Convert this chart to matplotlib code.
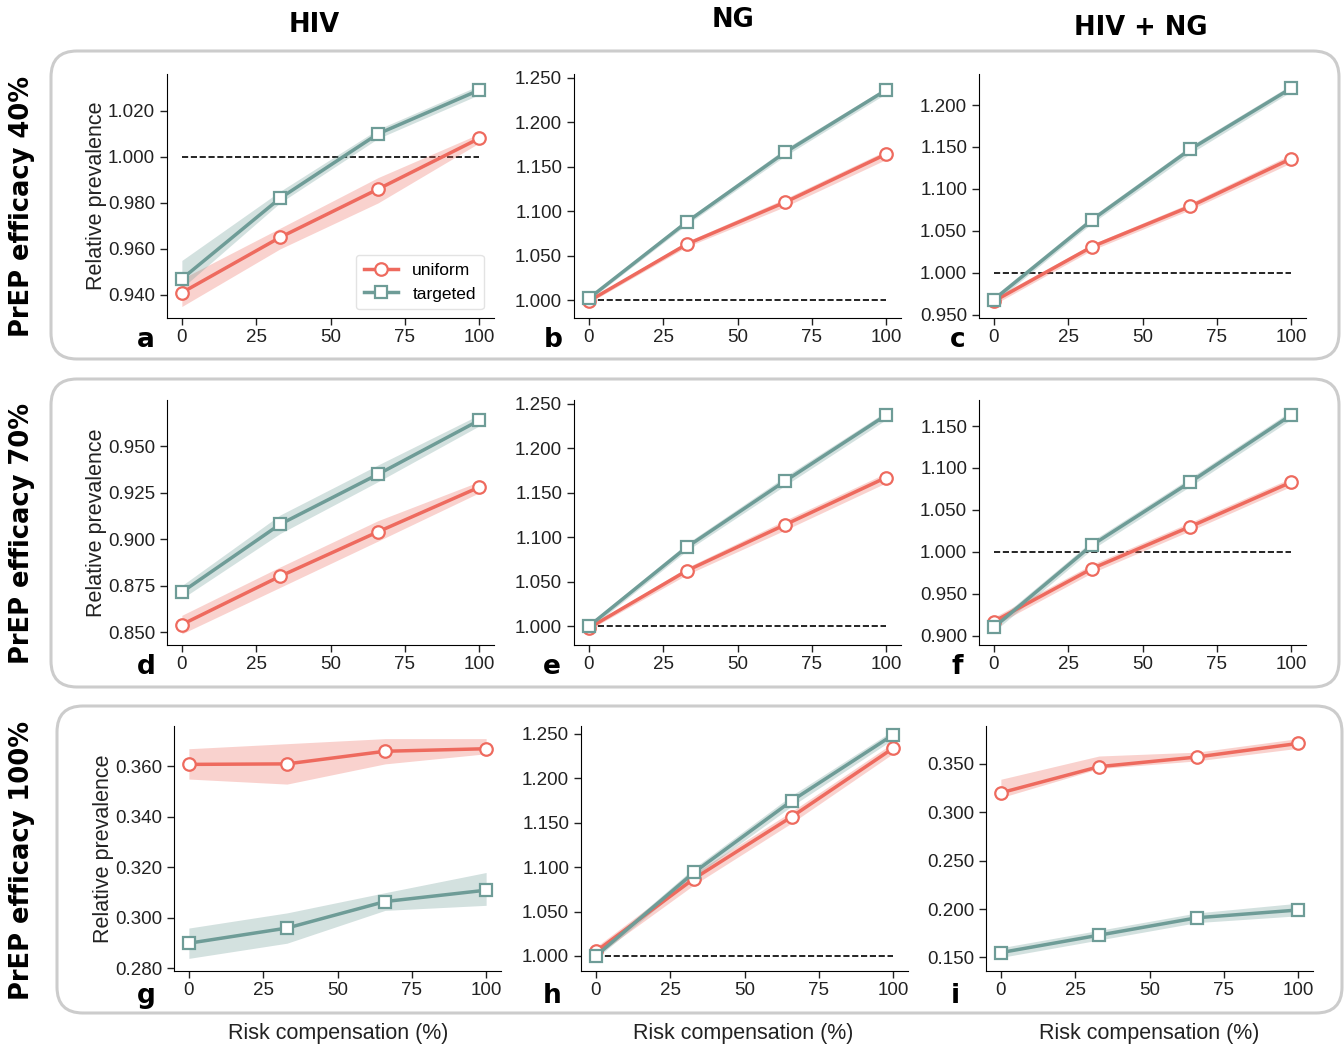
import matplotlib
matplotlib.use('Agg')
import matplotlib.pyplot as plt
import numpy as np
from matplotlib.patches import FancyBboxPatch
from matplotlib.transforms import IdentityTransform

# risk compensation (%)
rc = [0, 33, 66, 100]

# row 1: PrEP efficacy 40%
hiv40_uni = [0.941, 0.965, 0.986, 1.008]
hiv40_uni_lo = [0.935, 0.960, 0.980, 1.006]
hiv40_uni_hi = [0.947, 0.969, 0.991, 1.010]
hiv40_tar = [0.947, 0.982, 1.010, 1.029]
hiv40_tar_lo = [0.943, 0.980, 1.008, 1.027]
hiv40_tar_hi = [0.955, 0.985, 1.012, 1.031]

ng40_uni = [0.999, 1.063, 1.110, 1.164]
ng40_uni_lo = [0.997, 1.060, 1.105, 1.158]
ng40_uni_hi = [1.001, 1.066, 1.114, 1.168]
ng40_tar = [1.002, 1.088, 1.166, 1.236]
ng40_tar_lo = [1.000, 1.085, 1.162, 1.232]
ng40_tar_hi = [1.004, 1.091, 1.170, 1.239]

both40_uni = [0.966, 1.031, 1.079, 1.136]
both40_uni_lo = [0.962, 1.027, 1.075, 1.131]
both40_uni_hi = [0.970, 1.034, 1.083, 1.141]
both40_tar = [0.968, 1.063, 1.147, 1.220]
both40_tar_lo = [0.964, 1.059, 1.142, 1.216]
both40_tar_hi = [0.972, 1.067, 1.151, 1.224]

# row 2: PrEP efficacy 70%
hiv70_uni = [0.854, 0.880, 0.904, 0.928]
hiv70_uni_lo = [0.849, 0.874, 0.899, 0.925]
hiv70_uni_hi = [0.859, 0.885, 0.910, 0.931]
hiv70_tar = [0.8715, 0.908, 0.935, 0.964]
hiv70_tar_lo = [0.868, 0.903, 0.931, 0.961]
hiv70_tar_hi = [0.875, 0.913, 0.940, 0.967]

ng70_uni = [0.998, 1.0625, 1.114, 1.167]
ng70_uni_lo = [0.996, 1.058, 1.108, 1.161]
ng70_uni_hi = [1.000, 1.066, 1.119, 1.172]
ng70_tar = [1.000, 1.089, 1.163, 1.237]
ng70_tar_lo = [0.997, 1.085, 1.158, 1.232]
ng70_tar_hi = [1.003, 1.093, 1.168, 1.241]

both70_uni = [0.917, 0.980, 1.030, 1.083]
both70_uni_lo = [0.912, 0.975, 1.025, 1.078]
both70_uni_hi = [0.922, 0.985, 1.035, 1.088]
both70_tar = [0.910, 1.008, 1.083, 1.163]
both70_tar_lo = [0.905, 1.003, 1.078, 1.158]
both70_tar_hi = [0.915, 1.013, 1.088, 1.168]

# row 3: PrEP efficacy 100%
hiv100_uni = [0.3608, 0.361, 0.366, 0.367]
hiv100_uni_lo = [0.355, 0.353, 0.361, 0.365]
hiv100_uni_hi = [0.367, 0.369, 0.371, 0.371]
hiv100_tar = [0.290, 0.296, 0.3065, 0.311]
hiv100_tar_lo = [0.284, 0.290, 0.303, 0.305]
hiv100_tar_hi = [0.296, 0.302, 0.310, 0.318]

ng100_uni = [1.005, 1.087, 1.157, 1.234]
ng100_uni_lo = [1.000, 1.080, 1.150, 1.228]
ng100_uni_hi = [1.010, 1.093, 1.163, 1.240]
ng100_tar = [1.000, 1.094, 1.175, 1.249]
ng100_tar_lo = [0.997, 1.089, 1.169, 1.244]
ng100_tar_hi = [1.004, 1.099, 1.181, 1.254]

both100_uni = [0.320, 0.347, 0.357, 0.371]
both100_uni_lo = [0.315, 0.345, 0.353, 0.366]
both100_uni_hi = [0.334, 0.358, 0.362, 0.376]
both100_tar = [0.155, 0.173, 0.191, 0.199]
both100_tar_lo = [0.150, 0.168, 0.186, 0.193]
both100_tar_hi = [0.160, 0.178, 0.196, 0.206]

col_titles = ['HIV', 'NG', 'HIV + NG']
row_titles = ['PrEP efficacy 40%', 'PrEP efficacy 70%', 'PrEP efficacy 100%']
letters = ['a', 'b', 'c', 'd', 'e', 'f', 'g', 'h', 'i']

RED = '#EE6A5E'
TEAL = '#6E9C97'

plt.rcParams['font.family'] = ['Liberation Sans', 'DejaVu Sans']
plt.rcParams['font.size'] = 13.5

W, H = 1344, 1047
fig = plt.figure(figsize=(W / 100, H / 100), dpi=100)

# rounded frames behind each row (pixel coords, top-down)
frames = [(51, 51, 1339, 359), (51, 379, 1339, 687), (57, 706, 1342, 1013)]
for x0, y0, x1, y1 in frames:
    p = FancyBboxPatch((x0, H - y1), x1 - x0, y1 - y0,
                       boxstyle='round,pad=0,rounding_size=26',
                       transform=IdentityTransform(), fc='none', ec='#cccccc', lw=2.2)
    fig.patches.append(p)
    p.set_figure(fig)

panels = [
    [(hiv40_uni, hiv40_uni_lo, hiv40_uni_hi, hiv40_tar, hiv40_tar_lo, hiv40_tar_hi),
     (ng40_uni, ng40_uni_lo, ng40_uni_hi, ng40_tar, ng40_tar_lo, ng40_tar_hi),
     (both40_uni, both40_uni_lo, both40_uni_hi, both40_tar, both40_tar_lo, both40_tar_hi)],
    [(hiv70_uni, hiv70_uni_lo, hiv70_uni_hi, hiv70_tar, hiv70_tar_lo, hiv70_tar_hi),
     (ng70_uni, ng70_uni_lo, ng70_uni_hi, ng70_tar, ng70_tar_lo, ng70_tar_hi),
     (both70_uni, both70_uni_lo, both70_uni_hi, both70_tar, both70_tar_lo, both70_tar_hi)],
    [(hiv100_uni, hiv100_uni_lo, hiv100_uni_hi, hiv100_tar, hiv100_tar_lo, hiv100_tar_hi),
     (ng100_uni, ng100_uni_lo, ng100_uni_hi, ng100_tar, ng100_tar_lo, ng100_tar_hi),
     (both100_uni, both100_uni_lo, both100_uni_hi, both100_tar, both100_tar_lo, both100_tar_hi)],
]

ylims = [[(0.930, 1.036), (0.980, 1.254), (0.946, 1.237)],
         [(0.843, 0.975), (0.979, 1.254), (0.889, 1.181)],
         [(0.279, 0.376), (0.983, 1.259), (0.136, 0.389)]]
yticks = [[np.arange(0.94, 1.021, 0.02), np.arange(1.0, 1.251, 0.05), np.arange(0.95, 1.201, 0.05)],
          [np.arange(0.85, 0.951, 0.025), np.arange(1.0, 1.251, 0.05), np.arange(0.90, 1.151, 0.05)],
          [np.arange(0.28, 0.361, 0.02), np.arange(1.0, 1.251, 0.05), np.arange(0.15, 0.351, 0.05)]]

# axes boxes in pixels: (left, top, bottom)
ax_lefts = [[167, 574, 979], [167, 574, 979], [174, 581, 986]]
ax_tops = [74, 400, 726]
ax_bots = [318, 645, 971]
AXW = 327

letter_pos = [[(146, 340), (553, 340), (958, 340)],
              [(146, 667), (552, 667), (957, 667)],
              [(146, 996), (552, 996), (955, 996)]]
xlabel_x = [338, 743, 1149]

for r in range(3):
    for c in range(3):
        l = ax_lefts[r][c]
        ax = fig.add_axes([l / W, 1 - ax_bots[r] / H, AXW / W, (ax_bots[r] - ax_tops[r]) / H])
        u, ulo, uhi, t, tlo, thi = panels[r][c]
        lo_y, hi_y = ylims[r][c]
        if lo_y < 1.0 < hi_y:
            ax.plot([0, 100], [1, 1], ls='--', color='black', lw=1.2, zorder=1)
        ax.fill_between(rc, ulo, uhi, color=RED, alpha=0.3, lw=0, zorder=2)
        ax.fill_between(rc, tlo, thi, color=TEAL, alpha=0.3, lw=0, zorder=2)
        ax.plot(rc, u, color=RED, lw=2.5, marker='o', ms=9, mfc='white', mec=RED, mew=1.6,
                label='uniform', zorder=4)
        ax.plot(rc, t, color=TEAL, lw=2.5, marker='s', ms=9, mfc='white', mec=TEAL, mew=1.6,
                label='targeted', zorder=4)
        ax.set_xlim(-5, 105)
        ax.set_ylim(lo_y, hi_y)
        ax.set_xticks([0, 25, 50, 75, 100])
        ax.set_yticks(yticks[r][c])
        ax.yaxis.set_major_formatter(matplotlib.ticker.FormatStrFormatter('%.3f'))
        ax.spines['top'].set_visible(False)
        ax.spines['right'].set_visible(False)
        ax.tick_params(direction='out', length=5, width=1, labelsize=13.5, colors='#222222')
        ax.tick_params(axis='x', pad=3)
        if c == 0:
            ax.set_ylabel('Relative prevalence', fontsize=15.5, color='#222222', labelpad=1)
        if r == 2:
            fig.text(xlabel_x[c] / W, 1 - 1033 / H, 'Risk compensation (%)', fontsize=15.5,
                     color='#222222', ha='center', va='center')
        if r == 0 and c == 0:
            ax.legend(loc='lower right', fontsize=12.5, frameon=True, fancybox=True,
                      edgecolor='#dddddd', handlelength=2.0, borderpad=0.45,
                      bbox_to_anchor=(0.995, 0.0))
        lx, ly = letter_pos[r][c]
        fig.text(lx / W, 1 - ly / H, letters[r * 3 + c], fontsize=19, fontweight='bold',
                 family='DejaVu Sans', ha='center', va='center')

# column titles
for (x, y), s in zip([(314, 25), (733, 20), (1141, 28)], col_titles):
    fig.text(x / W, 1 - y / H, s, fontsize=18.5, fontweight='bold', family='DejaVu Sans',
             ha='center', va='center')

# row titles
for y, s in zip([206, 533, 860], row_titles):
    fig.text(22 / W, 1 - y / H, s, fontsize=18.5, fontweight='bold', family='DejaVu Sans',
             ha='center', va='center', rotation=90)

fig.savefig('out.png', dpi=100)
